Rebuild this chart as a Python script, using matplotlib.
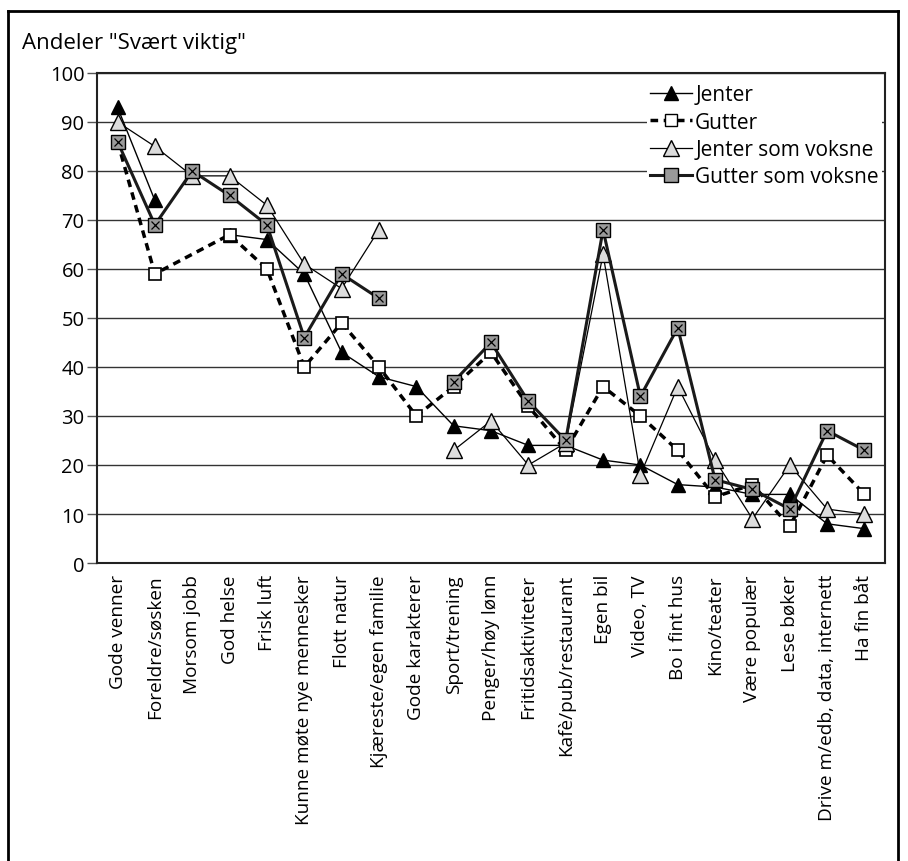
import numpy as np
import matplotlib.pyplot as plt
from matplotlib.lines import Line2D

plt.rcParams['font.family'] = ['Open Sans', 'DejaVu Sans']

# Categories and shares (%) answering "Svært viktig"
categories = ['Gode venner', 'Foreldre/søsken', 'Morsom jobb', 'God helse', 'Frisk luft',
              'Kunne møte nye mennesker', 'Flott natur', 'Kjæreste/egen familie',
              'Gode karakterer', 'Sport/trening', 'Penger/høy lønn', 'Fritidsaktiviteter',
              'Kafè/pub/restaurant', 'Egen bil', 'Video, TV', 'Bo i fint hus', 'Kino/teater',
              'Være populær', 'Lese bøker', 'Drive m/edb, data, internett', 'Ha fin båt']
nan = np.nan
jenter = [93, 74, nan, 67, 66, 59, 43, 38, 36, 28, 27, 24, 24, 21, 20, 16, 15.5, 14, 14, 8, 7]
gutter = [86, 59, nan, 67, 60, 40, 49, 40, 30, 36, 43, 32, 23, 36, 30, 23, 13.5, 16, 7.5, 22, 14]
jenter_voksne = [90, 85, 79, 79, 73, 61, 56, 68, nan, 23, 29, 20, 24.5, 63, 18, 36, 21, 9, 20, 11, 10]
gutter_voksne = [86, 69, 80, 75, 69, 46, 59, 54, nan, 37, 45, 33, 25, 68, 34, 48, 17, 15, 11, 27, 23]

x = np.arange(len(categories))

fig = plt.figure(figsize=(9.08, 8.62), dpi=100)
ax = fig.add_axes([0.1068, 0.3457, 0.8679, 0.5685])

# Jenter: gaps where data is missing
ax.plot(x, jenter, color='black', lw=1, marker='^', ms=10, mfc='black', mec='black', zorder=3)

# Gutter: dashed line connects across missing values
g = np.array(gutter, dtype=float)
ok = ~np.isnan(g)
ax.plot(x[ok], g[ok], color='black', lw=2.5, ls=(0, (2.2, 1.6)), marker='s', ms=9,
        mfc='white', mec='black', mew=1.2, zorder=4)

ax.plot(x, jenter_voksne, color='black', lw=0.9, marker='^', ms=12, mfc='#dcdcdc',
        mec='black', mew=1.0, zorder=5)

ax.plot(x, gutter_voksne, color='#1a1a1a', lw=2.2, marker='s', ms=10, mfc='#9a9a9a',
        mec='black', mew=1.0, zorder=6)
ax.plot(x, gutter_voksne, ls='none', marker='x', ms=6, mec='black', mew=0.9, zorder=7)

ax.set_xlim(-0.55, len(categories) - 0.45)
ax.set_ylim(0, 100)
ax.set_yticks(range(0, 101, 10))
ax.yaxis.grid(True, color='#333333', lw=1)
ax.set_axisbelow(True)
ax.set_xticks(x)
ax.set_xticklabels(categories, rotation=90, fontsize=13.7)
ax.tick_params(axis='y', labelsize=14.5, length=7, width=1, color='#555555', pad=2)
ax.tick_params(axis='x', length=0, pad=8)
for s in ax.spines.values():
    s.set_linewidth(1.5)
    s.set_color('#222222')
    s.set_zorder(11)

fig.text(0.024, 0.950, 'Andeler "Svært viktig"', fontsize=16, va='center', ha='left')

handles = [
    Line2D([], [], color='black', lw=1, marker='^', ms=10, mfc='black', mec='black'),
    Line2D([], [], color='black', lw=2.5, ls=(0, (2.2, 1.6)), marker='s', ms=9,
           mfc='white', mec='black'),
    Line2D([], [], color='black', lw=0.9, marker='^', ms=12, mfc='#dcdcdc', mec='black'),
    Line2D([], [], color='#1a1a1a', lw=2.2, marker='s', ms=10, mfc='#9a9a9a', mec='black'),
]
labels = ['Jenter', 'Gutter', 'Jenter som voksne', 'Gutter som voksne']
leg = ax.legend(handles, labels, loc='upper right', bbox_to_anchor=(0.996, 0.983),
                fontsize=15, frameon=True, handlelength=2.0, handletextpad=0.15,
                labelspacing=0.3, borderpad=0.15, borderaxespad=0.0)
leg.get_frame().set_edgecolor('none')
leg.get_frame().set_facecolor('white')
leg.get_frame().set_alpha(1)
leg.set_zorder(10)

# outer frame
fig.add_artist(Line2D([0.009, 0.009], [0.0, 0.986], color='black', lw=2, transform=fig.transFigure))
fig.add_artist(Line2D([0.009, 0.989], [0.986, 0.986], color='black', lw=2, transform=fig.transFigure))
fig.add_artist(Line2D([0.989, 0.989], [0.0, 0.986], color='black', lw=2, transform=fig.transFigure))

fig.savefig('out.png', dpi=100)
